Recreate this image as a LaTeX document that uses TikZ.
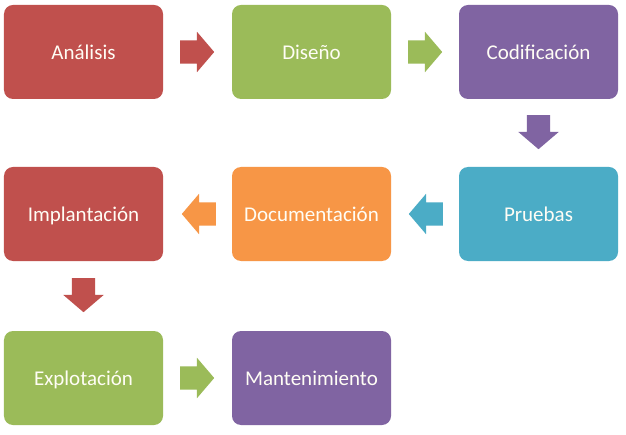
\documentclass[tikz,border=0pt]{standalone}
\usepackage{fontspec}
\setmainfont{Carlito}
\usetikzlibrary{shapes.arrows,calc}
\definecolor{cred}{HTML}{C0504D}
\definecolor{cgreen}{HTML}{9BBB59}
\definecolor{cpurple}{HTML}{8064A2}
\definecolor{cteal}{HTML}{4BACC6}
\definecolor{corange}{HTML}{F79646}
\definecolor{ctext}{HTML}{FFFDF5}
\tikzset{
  box/.style={rectangle, rounded corners=9bp, minimum width=159bp, minimum height=94bp,
    inner sep=0pt, text=ctext, font=\fontsize{21bp}{25bp}\selectfont,
    text height=17bp, text depth=1.4bp},
  blockarrow/.style={single arrow, inner xsep=0pt, inner ysep=11.5bp, minimum height=34bp,
    single arrow head extend=8.5bp, single arrow tip angle=99, outer sep=0pt, anchor=tail},
}
\begin{document}
\begin{tikzpicture}[x=1bp,y=-1bp]
\useasboundingbox[fill=white] (0,0) rectangle (626,435);
\node[box, fill=cred]    (ana) at (83.5,52) {Análisis};
\node[box, fill=cgreen]  (dis) at (311.5,52) {Diseño};
\node[box, fill=cpurple] (cod) at (538.5,52) {Codificación};
\node[box, fill=cred]    (imp) at (83.5,214) {Implantación};
\node[box, fill=corange] (doc) at (311.5,214) {Documentación};
\node[box, fill=cteal]   (pru) at (538.5,214) {Pruebas};
\node[box, fill=cgreen]  (exp) at (83.5,378) {Explotación};
\node[box, fill=cpurple] (man) at (311.5,378) {Mantenimiento};
\node[blockarrow, fill=cred] (a1) at ($(ana.east)+(17,0)$) {};
\node[blockarrow, fill=cgreen] (a2) at ($(dis.east)+(17,0)$) {};
\node[blockarrow, fill=cpurple, rotate=-90] (a3) at ($(cod.south)+(0,16)$) {};
\node[blockarrow, fill=cteal, rotate=180] (a4) at ($(pru.west)+(-16,0)$) {};
\node[blockarrow, fill=corange, rotate=180] (a5) at ($(doc.west)+(-16,0)$) {};
\node[blockarrow, fill=cred, rotate=-90] (a6) at ($(imp.south)+(0,17)$) {};
\node[blockarrow, fill=cgreen] (a7) at ($(exp.east)+(17,0)$) {};
\end{tikzpicture}
\end{document}
